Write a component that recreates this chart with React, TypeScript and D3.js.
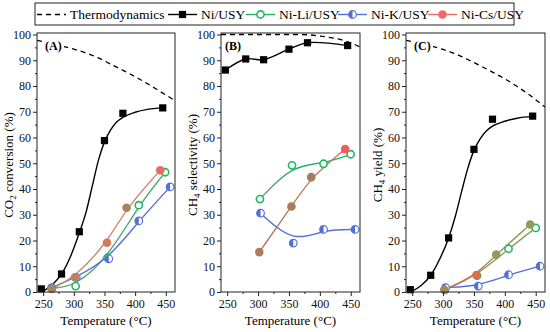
import React, { useEffect, useRef } from 'react'
import * as d3 from 'd3'

// temperatures (°C) of the measured points
const niTemps = [247, 280, 309, 350, 380, 445]
const liTempsA = [264, 303, 355, 406, 449]
const liTemps = [303, 355, 406, 450]
const kTempsA = [264, 304, 357, 406, 457]
const kTemps = [304, 357, 406, 457]
const csTempsA = [264, 302, 354, 386, 441]
const csTemps = [302, 354, 386, 441]

// (A) CO2 conversion (%)
const niConv = [1.2, 7.0, 23.4, 58.8, 69.4, 71.5]
const liConv = [1.4, 2.3, 13.3, 33.7, 46.5]
const kConv = [1.7, 5.7, 12.9, 27.6, 40.8]
const csConv = [1.2, 5.7, 19.1, 32.7, 47.3]

// (B) CH4 selectivity (%)
const niSel = [86.2, 90.5, 90.2, 94.3, 96.8, 95.7]
const liSel = [36.1, 49.2, 49.8, 53.5]
const kSel = [30.6, 19.0, 24.3, 24.3]
const csSel = [15.5, 33.2, 44.6, 55.5]

// (C) CH4 yield (%)
const niYield = [0.9, 6.5, 21.0, 55.4, 67.1, 68.3]
const liYield = [0.8, 6.4, 16.8, 24.9]
const kYield = [1.7, 2.3, 6.7, 10.0]
const csYield = [0.9, 6.6, 14.5, 26.2]

// fitted curve of Ni/USY
const fitTemps = [247, 265, 280, 295, 309, 320, 330, 340, 350, 360, 370, 380, 400, 420, 445]
const niConvFit = [0, 2.8, 7, 14, 23, 31, 41, 51, 58.3, 63, 66, 67.8, 69.8, 70.9, 71.5]
const niYieldFit = [0, 2.6, 6.5, 13, 21, 29.5, 39, 48, 55, 59.5, 62.5, 64.4, 66.3, 67.5, 68.2]

// thermodynamic equilibrium
const thermoTemps = [240, 260, 280, 300, 320, 340, 360, 380, 400, 420, 440, 465]
const thermoConv = [97.7, 96.8, 95.6, 94.3, 92.8, 90.9, 88.5, 86.1, 83.6, 80.9, 78, 74.3]
const thermoSel = [100, 100, 100, 100, 100, 100, 100, 99.9, 99.4, 98.7, 97.6, 95.2]
const thermoYield = [97.7, 96.8, 95.6, 94.2, 92.5, 90.3, 87.9, 85.4, 82.8, 79.8, 76.5, 71.8]

const xTicks = [250, 300, 350, 400, 450]

const legendLabels = ['Thermodynamics', 'Ni/USY', 'Ni-Li/USY', 'Ni-K/USY', 'Ni-Cs/USY']

const GREEN = '#1fb862'
const BLUE = '#5470d4'
const FONT = '"Liberation Serif", "DejaVu Serif", serif'

type Stop = [number, string]

interface PanelCfg {
  id: string
  left: number
  right: number
  title: string[]
  thermo: number[]
  niVals: number[]
  niFit?: number[]
  li: [number[], number[]]
  k: [number[], number[]]
  cs: [number[], number[]]
  liLine: Stop[]
  csLine: Stop[]
  csFill: string[]
}

const pair = (t: number[], v: number[]) => t.map((d, i) => [d, v[i]] as [number, number])

const App: React.FC = () => {
  const svgRef = useRef<SVGSVGElement>(null)

  useEffect(() => {
    if (!svgRef.current) return
    const svg = d3.select(svgRef.current)
    svg.selectAll('*').remove()

    const top = 33
    const bottom = 292
    const y = d3.scaleLinear().domain([0, 100]).range([bottom, 34.5])
    const defs = svg.append('defs')

    const panels: PanelCfg[] = [
      {
        id: 'A', left: 37, right: 175, title: ['CO', '2', ' conversion (%)'],
        thermo: thermoConv, niVals: niConv, niFit: niConvFit,
        li: [liTempsA, liConv], k: [kTempsA, kConv], cs: [csTempsA, csConv],
        liLine: [[264, '#6f9c78'], [449, '#45b070']],
        csLine: [[264, '#b39070'], [441, '#d98a70']],
        csFill: ['#9e8a62', '#b9835e', '#cf7a5e', '#ad835e', '#ec6a62']
      },
      {
        id: 'B', left: 221, right: 360, title: ['CH', '4', ' selectivity (%)'],
        thermo: thermoSel, niVals: niSel,
        li: [liTemps, liSel], k: [kTemps, kSel], cs: [csTemps, csSel],
        liLine: [[303, '#7f9575'], [360, GREEN], [450, GREEN]],
        csLine: [[302, '#a98060'], [386, '#c07a60'], [441, '#f06060']],
        csFill: ['#b07a5c', '#a77c5c', '#a27e5c', '#ee5f5f']
      },
      {
        id: 'C', left: 406, right: 545, title: ['CH', '4', ' yield (%)'],
        thermo: thermoYield, niVals: niYield, niFit: niYieldFit,
        li: [liTemps, liYield], k: [kTemps, kYield], cs: [csTemps, csYield],
        liLine: [[303, '#8e9e66'], [450, '#8a9e66']],
        csLine: [[302, '#e07050'], [354, '#d07055'], [386, '#909a60'], [441, '#8e9c5e']],
        csFill: ['#a08a60', '#d86e50', '#8f9a5c', '#8e9c5c']
      }
    ]

    const drawMarker = (g: d3.Selection<SVGGElement, unknown, null, undefined>, kind: string, cx: number, cy: number, fill = '') => {
      if (kind === 'ni') {
        g.append('rect').attr('x', cx - 3.6).attr('y', cy - 3.6).attr('width', 7.2).attr('height', 7.2).attr('fill', '#000')
      } else if (kind === 'li') {
        g.append('circle').attr('cx', cx).attr('cy', cy).attr('r', 3.6)
          .attr('fill', '#fff').attr('stroke', GREEN).attr('stroke-width', 1.6)
      } else if (kind === 'k') {
        const r = 3.8
        g.append('circle').attr('cx', cx).attr('cy', cy).attr('r', r).attr('fill', '#fff')
        g.append('path')
          .attr('d', `M${cx},${cy - r}A${r},${r} 0 0 0 ${cx},${cy + r}Z`)
          .attr('fill', BLUE)
        g.append('circle').attr('cx', cx).attr('cy', cy).attr('r', r)
          .attr('fill', 'none').attr('stroke', BLUE).attr('stroke-width', 1.2)
      } else {
        g.append('circle').attr('cx', cx).attr('cy', cy).attr('r', 4.3).attr('fill', fill || '#ee6060')
      }
    }

    panels.forEach(p => {
      const x = d3.scaleLinear().domain([240, 465]).range([p.left, p.right])
      const g = svg.append('g')

      // clip to plot area
      defs.append('clipPath').attr('id', `clip${p.id}`)
        .append('rect').attr('x', p.left).attr('y', top).attr('width', p.right - p.left).attr('height', bottom - top)

      const gradient = (name: string, stops: Stop[]) => {
        const lg = defs.append('linearGradient').attr('id', name)
          .attr('gradientUnits', 'userSpaceOnUse')
          .attr('x1', p.left).attr('x2', p.right).attr('y1', 0).attr('y2', 0)
        stops.forEach(([t, c]) => {
          lg.append('stop').attr('offset', (x(t) - p.left) / (p.right - p.left)).attr('stop-color', c)
        })
        return `url(#${name})`
      }

      const line = d3.line<[number, number]>().x(d => x(d[0])).y(d => y(d[1]))
      const plot = g.append('g').attr('clip-path', `url(#clip${p.id})`)

      // thermodynamics
      plot.append('path')
        .attr('d', line.curve(d3.curveMonotoneX)(pair(thermoTemps, p.thermo)))
        .attr('fill', 'none').attr('stroke', '#000').attr('stroke-width', 1.3)
        .attr('stroke-dasharray', '5,4')

      // label with white backing
      const lx = p.left + (p.id === 'B' ? 4 : 8)
      g.append('rect').attr('x', lx - 1).attr('y', 39).attr('width', 20).attr('height', 14).attr('fill', '#fff')
      g.append('text').attr('x', lx).attr('y', 50)
        .style('font-family', FONT).style('font-size', '12px').style('font-weight', 'bold').text(`(${p.id})`)

      // Li / K / Cs lines
      plot.append('path')
        .attr('d', line.curve(d3.curveBasis)(pair(p.li[0], p.li[1])))
        .attr('fill', 'none').attr('stroke', gradient(`li${p.id}`, p.liLine)).attr('stroke-width', 1.4)
      plot.append('path')
        .attr('d', line.curve(d3.curveBasis)(pair(p.k[0], p.k[1])))
        .attr('fill', 'none').attr('stroke', BLUE).attr('stroke-width', 1.4)
      plot.append('path')
        .attr('d', line.curve(d3.curveBasis)(pair(p.cs[0], p.cs[1])))
        .attr('fill', 'none').attr('stroke', gradient(`cs${p.id}`, p.csLine)).attr('stroke-width', 1.4)

      // Ni/USY line
      const niPath = p.niFit
        ? line.curve(d3.curveMonotoneX)(pair(fitTemps, p.niFit))
        : line.curve(d3.curveCatmullRom)(pair(niTemps, p.niVals))
      plot.append('path').attr('d', niPath)
        .attr('fill', 'none').attr('stroke', '#000').attr('stroke-width', 1.4)

      // markers
      const mk = g.append('g')
      p.li[0].forEach((t, i) => drawMarker(mk, 'li', x(t), y(p.li[1][i])))
      p.k[0].forEach((t, i) => drawMarker(mk, 'k', x(t), y(p.k[1][i])))
      p.cs[0].forEach((t, i) => drawMarker(mk, 'cs', x(t), y(p.cs[1][i]), p.csFill[i]))
      niTemps.forEach((t, i) => drawMarker(mk, 'ni', x(t), y(p.niVals[i])))

      // frame
      g.append('rect').attr('x', p.left).attr('y', top)
        .attr('width', p.right - p.left).attr('height', bottom - top)
        .attr('fill', 'none').attr('stroke', '#222').attr('stroke-width', 1)

      // axes
      const xAxis = g.append('g').attr('transform', `translate(0,${bottom})`)
        .call(d3.axisBottom(x).tickValues(xTicks).tickSize(4).tickSizeOuter(0).tickPadding(3))
      g.append('g').attr('transform', `translate(0,${bottom})`)
        .call(d3.axisBottom(x).tickValues([275, 325, 375, 425]).tickSize(2).tickFormat(() => ''))
      const yAxis = g.append('g').attr('transform', `translate(${p.left},0)`)
        .call(d3.axisLeft(y).tickValues(d3.range(0, 101, 10)).tickSize(4).tickSizeOuter(0).tickPadding(2))
      g.append('g').attr('transform', `translate(${p.left},0)`)
        .call(d3.axisLeft(y).tickValues(d3.range(5, 100, 10)).tickSize(2).tickFormat(() => ''))
      g.selectAll('.domain').remove()
      ;[xAxis, yAxis].forEach(a => a.attr('font-family', null).selectAll('text')
        .style('font-family', FONT).style('font-size', '12px').attr('fill', '#111'))
      g.selectAll('.tick line').attr('stroke', '#222')

      // axis titles
      g.append('text').attr('x', (p.left + p.right) / 2).attr('y', 325)
        .attr('text-anchor', 'middle').style('font-family', FONT).style('font-size', '13px')
        .text('Temperature (°C)')
      const yt = g.append('text')
        .attr('transform', `translate(${p.left - 24},165) rotate(-90)`)
        .attr('text-anchor', 'middle').style('font-family', FONT).style('font-size', '13px')
      yt.append('tspan').text(p.title[0])
      yt.append('tspan').attr('dy', 3).style('font-size', '9px').text(p.title[1])
      yt.append('tspan').attr('dy', -3).text(p.title[2])
    })

    // legend
    const lg = svg.append('g')
    lg.append('rect').attr('x', 35).attr('y', 3).attr('width', 479).attr('height', 22)
      .attr('fill', '#fff').attr('stroke', '#222').attr('stroke-width', 1)
    const items = [
      { x: 37, kind: 'thermo', color: '#000' },
      { x: 168, kind: 'ni', color: '#000' },
      { x: 246, kind: 'li', color: GREEN },
      { x: 338, kind: 'k', color: BLUE },
      { x: 428, kind: 'cs', color: '#f06a6a' }
    ]
    items.forEach((it, i) => {
      const ly = 14.5
      lg.append('line').attr('x1', it.x).attr('x2', it.x + 29).attr('y1', ly).attr('y2', ly)
        .attr('stroke', it.color).attr('stroke-width', 1.4)
        .attr('stroke-dasharray', it.kind === 'thermo' ? '5,4' : null)
      if (it.kind !== 'thermo') drawMarker(lg, it.kind, it.x + 14.5, ly, it.kind === 'cs' ? '#f06a6a' : '')
      lg.append('text').attr('x', it.x + 33).attr('y', ly + 4.5)
        .style('font-family', FONT).style('font-size', '13.5px').text(legendLabels[i])
    })
  }, [])

  return (
    <svg ref={svgRef} width={550} height={332}
      style={{ position: 'absolute', left: 0, top: 0, background: '#fff' }} />
  )
}

export default App
